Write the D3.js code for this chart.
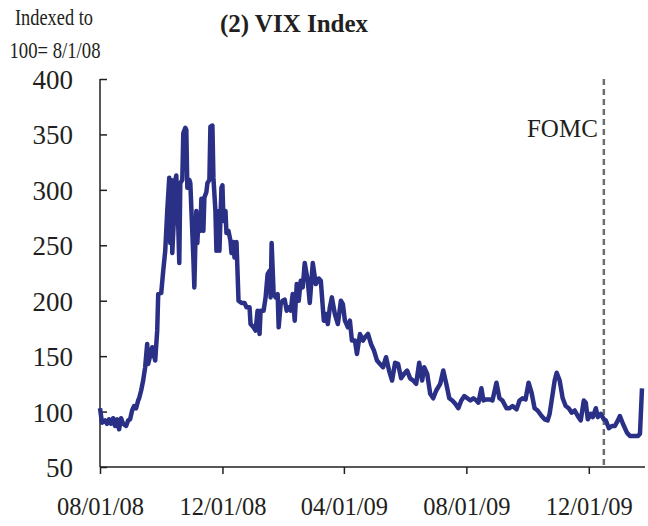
<!DOCTYPE html>
<html>
<head>
<meta charset="utf-8">
<script src="https://cdn.jsdelivr.net/npm/d3@7"></script>
<style>
  body { margin: 0; background: #fff; }
  svg text { font-family: "Liberation Serif", "Times New Roman", serif; fill: #231f20; }
</style>
</head>
<body>
<div id="graphic"></div>
<script>
// VIX, indexed to 100 on 8/1/08
var dates = [
  "2008-08-01","2008-08-03","2008-08-06","2008-08-08","2008-08-10","2008-08-12","2008-08-14","2008-08-16",
  "2008-08-18","2008-08-20","2008-08-22","2008-08-24","2008-08-27","2008-08-29","2008-08-31","2008-09-02",
  "2008-09-04","2008-09-06","2008-09-08","2008-09-09","2008-09-11","2008-09-13","2008-09-15","2008-09-17",
  "2008-09-18","2008-09-22","2008-09-25","2008-09-27","2008-09-28","2008-10-01","2008-10-03","2008-10-05",
  "2008-10-07","2008-10-09","2008-10-10","2008-10-11","2008-10-12","2008-10-14","2008-10-15","2008-10-16",
  "2008-10-18","2008-10-19","2008-10-20","2008-10-22","2008-10-23","2008-10-25","2008-10-26","2008-10-27",
  "2008-10-29","2008-10-30","2008-11-01","2008-11-02","2008-11-03","2008-11-04","2008-11-05","2008-11-06",
  "2008-11-07","2008-11-09","2008-11-10","2008-11-12","2008-11-13","2008-11-15","2008-11-16","2008-11-18",
  "2008-11-19","2008-11-21","2008-11-22","2008-11-24","2008-11-25","2008-11-26","2008-11-28","2008-11-30",
  "2008-12-01","2008-12-02","2008-12-04","2008-12-05","2008-12-07","2008-12-09","2008-12-10","2008-12-12",
  "2008-12-13","2008-12-15","2008-12-17","2008-12-20","2008-12-23","2008-12-25","2008-12-28","2008-12-29",
  "2009-01-01","2009-01-03","2009-01-05","2009-01-07","2009-01-08","2009-01-11","2009-01-13","2009-01-15",
  "2009-01-17","2009-01-18","2009-01-19","2009-01-21","2009-01-23","2009-01-25","2009-01-26","2009-01-28",
  "2009-01-30","2009-02-01","2009-02-03","2009-02-05","2009-02-07","2009-02-09","2009-02-11","2009-02-13",
  "2009-02-15","2009-02-17","2009-02-19","2009-02-21","2009-02-24","2009-02-26","2009-03-01","2009-03-04",
  "2009-03-07","2009-03-09","2009-03-12","2009-03-14","2009-03-16","2009-03-18","2009-03-20","2009-03-23",
  "2009-03-26","2009-03-29","2009-03-31","2009-04-02","2009-04-05","2009-04-07","2009-04-09","2009-04-12",
  "2009-04-14","2009-04-17","2009-04-20","2009-04-22","2009-04-25","2009-04-28","2009-05-01","2009-05-04",
  "2009-05-07","2009-05-10","2009-05-13","2009-05-16","2009-05-19","2009-05-22","2009-05-25","2009-05-28",
  "2009-05-31","2009-06-03","2009-06-06","2009-06-09","2009-06-12","2009-06-15","2009-06-18","2009-06-20",
  "2009-06-23","2009-06-26","2009-06-29","2009-07-02","2009-07-06","2009-07-09","2009-07-12","2009-07-15",
  "2009-07-18","2009-07-21","2009-07-24","2009-07-27","2009-07-30","2009-08-02","2009-08-05","2009-08-08",
  "2009-08-11","2009-08-13","2009-08-16","2009-08-18","2009-08-21","2009-08-24","2009-08-27","2009-08-31",
  "2009-09-03","2009-09-06","2009-09-10","2009-09-13","2009-09-16","2009-09-20","2009-09-23","2009-09-26",
  "2009-09-29","2009-10-02","2009-10-05","2009-10-08","2009-10-11","2009-10-15","2009-10-18","2009-10-21",
  "2009-10-23","2009-10-25","2009-10-28","2009-10-30","2009-11-02","2009-11-05","2009-11-08","2009-11-11",
  "2009-11-14","2009-11-17","2009-11-20","2009-11-23","2009-11-26","2009-11-28","2009-11-30","2009-12-03",
  "2009-12-05","2009-12-08","2009-12-10","2009-12-13","2009-12-16","2009-12-18","2009-12-21","2009-12-24",
  "2009-12-27","2009-12-30","2010-01-01","2010-01-04","2010-01-08","2010-01-11","2010-01-15","2010-01-19",
  "2010-01-21","2010-01-23"
];
var vix = [
  103, 90, 92, 89, 93, 89, 94, 87,
  93, 84, 94, 89, 87, 92, 93, 101,
  105, 103, 110, 112, 119, 128, 140, 161,
  143, 158, 146, 173, 206, 207, 227, 245,
  281, 311, 252, 309, 243, 281, 309, 313,
  266, 234, 306, 309, 351, 356, 354, 302,
  309, 306, 261, 239, 212, 252, 281, 252,
  272, 263, 292, 263, 293, 298, 306, 309,
  357, 358, 311, 281, 245, 281, 245, 302,
  304, 272, 281, 261, 263, 254, 243, 253,
  239, 253, 200, 198, 198, 194, 194, 179,
  176, 173, 191, 170, 191, 191, 203, 224,
  227, 203, 252, 206, 203, 206, 176, 197,
  200, 201, 191, 194, 191, 206, 182, 215,
  200, 218, 212, 234, 218, 198, 234, 215,
  220, 218, 182, 188, 179, 194, 203, 188,
  179, 200, 197, 182, 176, 182, 164, 164,
  152, 170, 164, 167, 170, 161, 155, 146,
  143, 140, 149, 137, 128, 144, 143, 130,
  134, 137, 130, 128, 125, 144, 128, 140,
  134, 116, 112, 119, 125, 137, 125, 112,
  110, 107, 103, 110, 114, 112, 110, 112,
  110, 108, 121, 110, 111, 111, 110, 126,
  112, 110, 103, 103, 105, 102, 110, 112,
  111, 126, 117, 103, 101, 96, 93, 92,
  98, 110, 128, 135, 128, 112, 105, 103,
  99, 101, 96, 92, 110, 108, 93, 98,
  95, 103, 95, 98, 93, 92, 85, 87,
  87, 92, 96, 89, 81, 78, 78, 78,
  80, 121
];
var yTicks = [50, 100, 150, 200, 250, 300, 350, 400];
var xTicks = ["2008-08-01", "2008-12-01", "2009-04-01", "2009-08-01", "2009-12-01"];
var fomcDate = "2009-12-16";

var w = 648, h = 526;
var plotLeft = 100, plotRight = 645, plotTop = 79, plotBottom = 467;
var parse = d3.timeParse("%Y-%m-%d");
var fmt = d3.timeFormat("%m/%d/%y");

var svg = d3.select("#graphic")
    .append("svg")
    .attr("width", w)
    .attr("height", h);

var xScale = d3.scaleTime()
    .domain([parse("2008-08-01"), parse("2010-01-26")])
    .range([plotLeft, plotRight]);
var yScale = d3.scaleLinear()
    .domain([50, 400])
    .range([plotBottom, plotTop]);

var data = dates.map(function(d, i){ return [parse(d), vix[i]]; });

// titles
svg.append("text")
   .attr("x", 294).attr("y", 32)
   .attr("text-anchor", "middle")
   .attr("font-size", 25).attr("font-weight", "bold")
   .text("(2) VIX Index");
svg.append("text")
   .attr("x", 54).attr("y", 25)
   .attr("text-anchor", "middle")
   .attr("font-size", 24)
   .attr("textLength", 78).attr("lengthAdjust", "spacingAndGlyphs")
   .text("Indexed to");
svg.append("text")
   .attr("x", 55).attr("y", 58)
   .attr("text-anchor", "middle")
   .attr("font-size", 24)
   .attr("textLength", 91).attr("lengthAdjust", "spacingAndGlyphs")
   .text("100= 8/1/08");

// axes (y ticks point inward, x ticks outward)
var yAxis = svg.append("g")
   .attr("transform", "translate(" + plotLeft + ",0)")
   .call(d3.axisRight(yScale).tickValues(yTicks).tickSize(7).tickSizeOuter(0).tickFormat(d3.format("d")));
yAxis.selectAll("text")
   .attr("x", -27).attr("dy", "0.35em")
   .attr("text-anchor", "end")
   .attr("font-size", 27);

var xAxis = svg.append("g")
   .attr("transform", "translate(0," + plotBottom + ")")
   .call(d3.axisBottom(xScale).tickValues(xTicks.map(parse)).tickSize(7).tickSizeOuter(0).tickFormat(fmt));
xAxis.selectAll("text")
   .attr("y", 48).attr("dy", 0)
   .attr("font-size", 24.5);

svg.selectAll(".domain").attr("stroke", "#231f20").attr("stroke-width", 1.5);
svg.selectAll(".tick line").attr("stroke", "#231f20").attr("stroke-width", 1.5);
xAxis.select(".domain").attr("d", "M" + plotLeft + ",0H" + plotRight);
yAxis.select(".domain").attr("d", "M0," + plotBottom + "V" + plotTop);

// FOMC marker
var fx = xScale(parse(fomcDate));
svg.append("line")
   .attr("x1", fx).attr("x2", fx)
   .attr("y1", plotTop).attr("y2", plotBottom)
   .attr("stroke", "#6d6e71")
   .attr("stroke-width", 2.5)
   .attr("stroke-dasharray", "6,4");
svg.append("text")
   .attr("x", fx - 6).attr("y", 137)
   .attr("text-anchor", "end")
   .attr("font-size", 25)
   .text("FOMC");

// series
var line = d3.line()
    .x(function(d){ return xScale(d[0]); })
    .y(function(d){ return yScale(d[1]); });
svg.append("path")
   .datum(data)
   .attr("d", line)
   .attr("fill", "none")
   .attr("stroke", "#2b3087")
   .attr("stroke-width", 4.5)
   .attr("stroke-linejoin", "round");
</script>
</body>
</html>
